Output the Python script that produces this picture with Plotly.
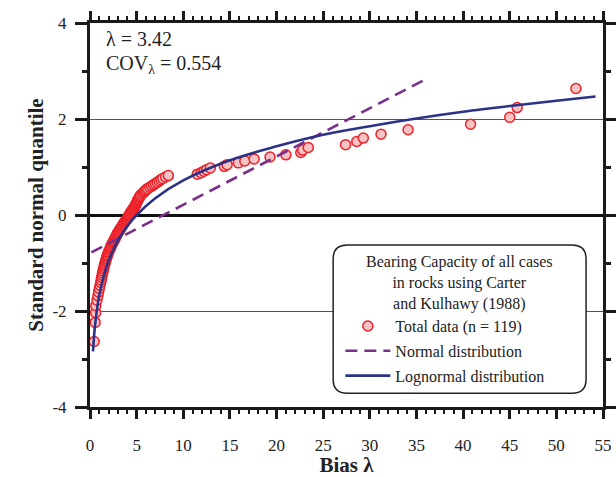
import plotly.graph_objects as go

# sorted bias values (lambda), with their plotted normal quantiles
bias = [0.45, 0.55, 0.6, 0.62, 0.75, 0.85, 0.92, 1.0, 1.08, 1.15,
        1.2, 1.25, 1.3, 1.35, 1.4, 1.45, 1.5, 1.55, 1.6, 1.65,
        1.7, 1.75, 1.8, 1.85, 1.9, 1.95, 2.0, 2.08, 2.15, 2.2,
        2.25, 2.3, 2.38, 2.45, 2.5, 2.58, 2.65, 2.7, 2.77, 2.83,
        2.88, 2.93, 3.0, 3.08, 3.15, 3.22, 3.3, 3.38, 3.45, 3.5,
        3.58, 3.65, 3.72, 3.8, 3.88, 3.95, 4.02, 4.08, 4.15, 4.2,
        4.27, 4.33, 4.4, 4.47, 4.55, 4.62, 4.7, 4.78, 4.85, 4.9,
        4.95, 5.0, 5.05, 5.1, 5.15, 5.22, 5.3, 5.35, 5.42, 5.55,
        5.7, 5.8, 5.9, 6.05, 6.2, 6.4, 6.6, 6.8, 7.0, 7.2,
        7.4, 7.6, 7.8, 8.1, 8.4, 11.5, 11.9, 12.2, 12.5, 12.9,
        14.4, 14.7, 15.9, 16.6, 17.6, 19.3, 21.0, 22.6, 22.8, 23.4,
        27.4, 28.6, 29.3, 31.2, 34.1, 40.8, 45.0, 45.8, 52.1]

quantile = [-2.636, -2.238, -2.034, -1.891, -1.777, -1.683, -1.603, -1.531, -1.466, -1.406,
            -1.352, -1.302, -1.254, -1.209, -1.166, -1.125, -1.086, -1.049, -1.014, -0.979,
            -0.945, -0.913, -0.881, -0.851, -0.821, -0.792, -0.763, -0.735, -0.708, -0.681,
            -0.655, -0.629, -0.603, -0.578, -0.554, -0.529, -0.505, -0.481, -0.458, -0.435,
            -0.412, -0.389, -0.366, -0.344, -0.321, -0.299, -0.277, -0.255, -0.234, -0.212,
            -0.191, -0.169, -0.148, -0.127, -0.106, -0.084, -0.063, -0.042, -0.021, 0.0,
            0.021, 0.042, 0.063, 0.084, 0.106, 0.127, 0.148, 0.169, 0.191, 0.212,
            0.234, 0.255, 0.277, 0.299, 0.321, 0.344, 0.366, 0.389, 0.412, 0.435,
            0.458, 0.481, 0.505, 0.529, 0.554, 0.578, 0.603, 0.629, 0.655, 0.681,
            0.708, 0.735, 0.763, 0.792, 0.821, 0.851, 0.881, 0.913, 0.945, 0.979,
            1.014, 1.049, 1.086, 1.125, 1.166, 1.209, 1.254, 1.302, 1.352, 1.406,
            1.466, 1.531, 1.603, 1.683, 1.777, 1.891, 2.034, 2.238, 2.636]

# fitted normal distribution (straight dashed line)
normal_x = [0.15, 35.7]
normal_y = [-0.78, 2.80]

# fitted lognormal distribution
lognormal_x = [0.32, 0.5, 0.75, 1, 1.5, 2, 3, 4, 5, 7, 10, 15, 20, 25, 30, 35, 40, 45, 50, 54.2]
lognormal_y = [-2.84, -2.38, -1.96, -1.66, -1.25, -0.95, -0.53, -0.23, 0.0, 0.35,
               0.72, 1.14, 1.43, 1.67, 1.85, 2.01, 2.15, 2.27, 2.38, 2.47]

x_ticks = [0, 5, 10, 15, 20, 25, 30, 35, 40, 45, 50, 55]
y_ticks = [-4, -2, 0, 2, 4]
y_tick_labels = ["-4", "-2", "0", "2", "4"]

serif = "Liberation Serif"

fig = go.Figure()

fig.add_trace(go.Scatter(
    x=bias, y=quantile, mode="markers", name="Total data (n = 119)",
    legendgroup="a",
    marker=dict(size=10, color="#f6c3c4", line=dict(color="#ec2028", width=1.5)),
))
fig.add_trace(go.Scatter(
    x=normal_x, y=normal_y, mode="lines", name="Normal distribution",
    legendgroup="b",
    line=dict(color="#7b2f8c", width=2.6, dash="12px,7px"),
))
fig.add_trace(go.Scatter(
    x=lognormal_x, y=lognormal_y, mode="lines", name="Lognormal distribution",
    legendgroup="c",
    line=dict(color="#2b3388", width=2.6, shape="spline"),
))

# rounded legend frame
x0, x1, y0, y1 = 0.474, 0.967, 0.036, 0.422
rx, ry = 14 / 511, 14 / 384
path = (f"M {x0+rx},{y1} L {x1-rx},{y1} Q {x1},{y1} {x1},{y1-ry} "
        f"L {x1},{y0+ry} Q {x1},{y0} {x1-rx},{y0} "
        f"L {x0+rx},{y0} Q {x0},{y0} {x0},{y0+ry} "
        f"L {x0},{y1-ry} Q {x0},{y1} {x0+rx},{y1} Z")
fig.add_shape(type="path", path=path, xref="paper", yref="paper",
              fillcolor="white", line=dict(color="#222", width=1.5), layer="above")

# legend heading, centred inside the frame
fig.add_annotation(x=0.72, y=0.323, xref="paper", yref="paper", xanchor="center", yanchor="middle",
                   text="Bearing Capacity of all cases<br>in rocks using Carter<br>and Kulhawy (1988)",
                   align="center", showarrow=False, font=dict(family=serif, size=16, color="#222"))

fig.add_annotation(x=0.027, y=0.958, xref="paper", yref="paper", xanchor="left", yanchor="middle",
                   text="λ = 3.42", showarrow=False, font=dict(family=serif, size=20, color="#222"))
fig.add_annotation(x=0.027, y=0.891, xref="paper", yref="paper", xanchor="left", yanchor="middle",
                   text="COV<sub>λ</sub> = 0.554", showarrow=False,
                   font=dict(family=serif, size=20, color="#222"))

fig.update_layout(
    width=616, height=477,
    margin=dict(l=90, r=13, t=23, b=70, autoexpand=False),
    paper_bgcolor="white", plot_bgcolor="white",
    font=dict(family=serif, color="#222"),
    legend=dict(
        x=0.488, y=0.255, xanchor="left", yanchor="top",
        bgcolor="rgba(0,0,0,0)", borderwidth=0,
        font=dict(family=serif, size=16, color="#222"),
        traceorder="grouped", tracegroupgap=1, itemwidth=45,
    ),
    showlegend=True,
)

fig.update_xaxes(
    range=[0, 55], tickvals=x_ticks, automargin=False,
    showline=True, linewidth=3, linecolor="#1a1a1a", mirror="allticks",
    ticks="outside", ticklen=9, tickwidth=2.5, tickcolor="#1a1a1a",
    minor=dict(dtick=1, ticks="outside", ticklen=4, tickwidth=2, tickcolor="#1a1a1a"),
    showgrid=False, zeroline=False,
    tickfont=dict(family=serif, size=17, color="#222"), ticklabelstandoff=12,
    title=dict(text="<b>Bias λ</b>", font=dict(family=serif, size=21, color="#222"), standoff=5),
)
fig.update_yaxes(
    range=[-4, 4], tickvals=y_ticks, ticktext=y_tick_labels, automargin=False,
    showline=True, linewidth=3, linecolor="#1a1a1a", mirror="allticks",
    ticks="outside", ticklen=12, tickwidth=2.5, tickcolor="#1a1a1a",
    minor=dict(dtick=1, ticks="outside", ticklen=5, tickwidth=2.5, tickcolor="#1a1a1a", showgrid=False),
    showgrid=True, gridcolor="#555", gridwidth=1.3,
    zeroline=True, zerolinecolor="#111", zerolinewidth=2.5,
    tickfont=dict(family=serif, size=17, color="#222"), ticklabelstandoff=5,
    title=dict(text="<b>Standard normal quantile</b>", font=dict(family=serif, size=21, color="#222"), standoff=4),
)

fig.write_html("out.html", config={"displayModeBar": False},
               post_script="document.body.style.margin='0';")
